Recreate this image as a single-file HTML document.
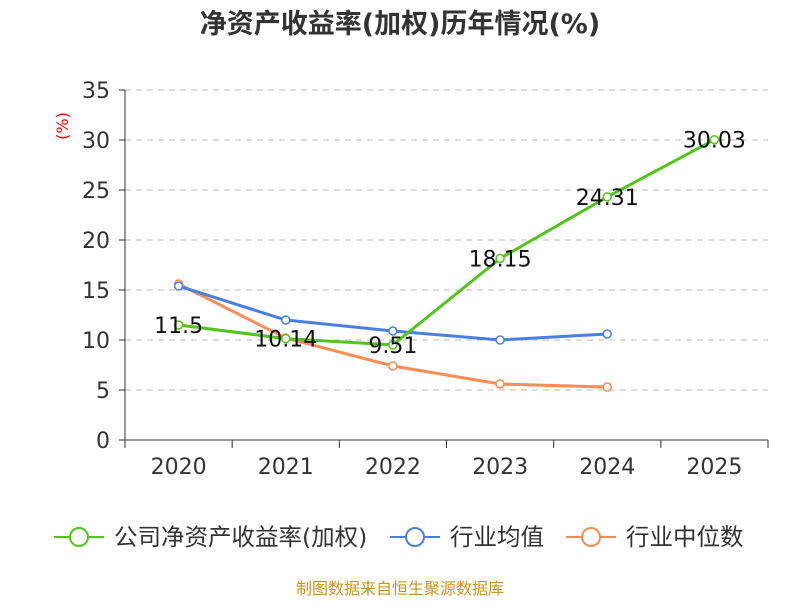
<!DOCTYPE html>
<html><head><meta charset="utf-8"><style>
body{margin:0;background:#fff;}
svg text{font-family:"DejaVu Sans","Noto Sans CJK SC",sans-serif;}
</style></head><body>
<svg id="c" width="800" height="600" xmlns="http://www.w3.org/2000/svg">
<text x="400" y="33" text-anchor="middle" font-size="27" font-weight="bold" fill="#333">净资产收益率(加权)历年情况(%)</text>
<text x="68" y="126" font-size="16" fill="#e00" transform="rotate(-90 68 126)" text-anchor="middle">(%)</text>
<g id="grid"></g><g id="axes"></g><g id="series"></g>
<g>
<g><line x1="54" y1="537" x2="104" y2="537" stroke="#52c41a" stroke-width="2"/><circle cx="79" cy="537" r="9" fill="#fff" stroke="#52c41a" stroke-width="2"/><text x="114" y="545" font-size="23.5" fill="#333">公司净资产收益率(加权)</text></g>
<g><line x1="390" y1="537" x2="440" y2="537" stroke="#4a7fe0" stroke-width="2"/><circle cx="415" cy="537" r="9" fill="#fff" stroke="#4a7fe0" stroke-width="2"/><text x="450" y="545" font-size="23.5" fill="#333">行业均值</text></g>
<g><line x1="566" y1="537" x2="616" y2="537" stroke="#ff8c55" stroke-width="2"/><circle cx="591" cy="537" r="9" fill="#fff" stroke="#ff8c55" stroke-width="2"/><text x="626" y="545" font-size="23.5" fill="#333">行业中位数</text></g>
</g>
<text x="400" y="594" text-anchor="middle" font-size="16" fill="#c8961e">制图数据来自恒生聚源数据库</text>
</svg>
<script>
const categories=["2020","2021","2022","2023","2024","2025"];
const companyValues=[11.5,10.14,9.51,18.15,24.31,30.03];
const industryAvg=[15.4,12.0,10.9,10.0,10.6];
const industryMedian=[15.6,10.2,7.4,5.6,5.3];
const yTicks=[0,5,10,15,20,25,30,35];
const NS="http://www.w3.org/2000/svg";
const x0=125,x1=768,y0=440,y1=90;
const band=(x1-x0)/categories.length;
const xs=i=>x0+band*(i+0.5);
const ys=v=>y0-(v/35)*(y0-y1);
function mk(t,a,p){const e=document.createElementNS(NS,t);for(const k in a)e.setAttribute(k,a[k]);p.appendChild(e);return e;}
const grid=document.getElementById('grid'),axes=document.getElementById('axes'),ser=document.getElementById('series');
yTicks.forEach(v=>{
 if(v>0){const g=mk('line',{x1:x0,x2:x1,y1:ys(v),y2:ys(v),stroke:'#bbb','stroke-dasharray':'6,5'},grid);
 
 }
 const tk=mk('line',{x1:x0-6,x2:x0,y1:ys(v),y2:ys(v),stroke:'#333'},axes);
 
 
 const t=mk('text',{x:x0-15,y:ys(v)+8,'text-anchor':'end','font-size':'22',fill:'#333'},axes);t.textContent=v;
 
 
});
const ya=mk('line',{x1:x0,x2:x0,y1:y1,y2:y0,stroke:'#333'},axes);


const xa=mk('line',{x1:x0,x2:x1,y1:y0,y2:y0,stroke:'#333'},axes);


for(let i=0;i<=categories.length;i++){const l=mk('line',{x1:x0+band*i,x2:x0+band*i,y1:y0,y2:y0+8,stroke:'#333'},axes);
 
 }
categories.forEach((c,i)=>{const t=mk('text',{x:xs(i),y:y0+34,'text-anchor':'middle','font-size':'22',fill:'#333'},axes);t.textContent=c;
 
 });
function line(vals,color,name,labels){
 const p=mk('polyline',{points:vals.map((v,i)=>xs(i)+','+ys(v)).join(' '),fill:'none',stroke:color,'stroke-width':3},ser);
 
 
 vals.forEach((v,i)=>{const c=mk('circle',{cx:xs(i),cy:ys(v),r:4,fill:'#fff',stroke:color,'stroke-width':1.5},ser);
  
  });
 if(labels)vals.forEach((v,i)=>{const t=mk('text',{x:xs(i),y:ys(v)+8,'text-anchor':'middle','font-size':'22',fill:'#111'},ser);t.textContent=v;
  
  });
}
line(industryMedian,'#ff8c55','industry-median',false);
line(industryAvg,'#4a7fe0','industry-avg',false);
line(companyValues,'#52c41a','company-roe',true);
</script>
</body></html>
